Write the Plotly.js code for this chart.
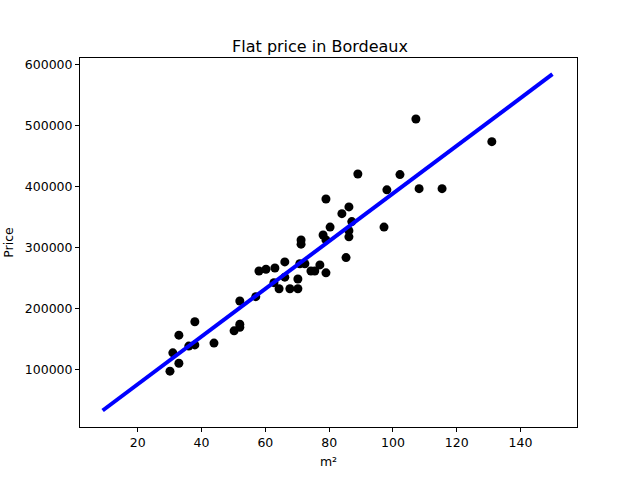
<!DOCTYPE html>
<html>
<head>
<meta charset="utf-8">
<script src="https://cdn.plot.ly/plotly-3.0.1.min.js"></script>
<style>html,body{margin:0;padding:0;background:#fff}</style>
</head>
<body>
<div id="myDiv" style="width:640px;height:480px"></div>
<script>
// Flat surface (m²) and price
const surface = [30.1, 31, 32.9, 32.9, 36, 37.9, 37.9, 43.9, 50.2, 52, 52, 52,
    57, 58, 60.2, 63, 62.7, 64.3, 66.1, 66.1, 67.7, 70.2, 70.2, 70.8, 71.2, 71.2,
    72.4, 74.3, 75.5, 77.1, 78.1, 79, 79, 79, 80.3, 84, 85.3, 86.2, 86.2, 86.2,
    87.1, 89, 97.2, 98.1, 102.2, 107.2, 108.2, 115.4, 131];
const price = [98000, 128000, 157000, 111000, 139000, 179000, 141000, 144000,
    164000, 213000, 175000, 170000, 220000, 262000, 265000, 267000, 243000,
    233000, 252000, 277000, 233000, 233000, 249000, 274000, 313000, 306000,
    274000, 262000, 262000, 272000, 321000, 259000, 313000, 380000, 334000,
    356000, 284000, 367000, 328000, 318000, 343000, 421000, 334000, 395000,
    420000, 511000, 397000, 397000, 474000];

// Regression line end points
const fitX = [9, 150];
const fitY = [33500, 584500];

const axisStyle = {
    showgrid: false,
    zeroline: false,
    showline: true,
    mirror: true,
    linecolor: '#000',
    linewidth: 1,
    ticks: 'outside',
    ticklen: 4,
    tickcolor: '#000',
    tickfont: {size: 12.5, color: '#000'}
};

let layout = {
    width: 640,
    height: 480,
    margin: {l: 80, r: 63, t: 58, b: 53},
    paper_bgcolor: '#fff',
    plot_bgcolor: '#fff',
    font: {family: 'DejaVu Sans', color: '#000'},
    showlegend: false,
    title: {text: 'Flat price in Bordeaux', font: {size: 16}, x: 0.5, xanchor: 'center', y: 0.915},
    xaxis: Object.assign({}, axisStyle, {
        range: [1.9, 157.7],
        tickvals: [20, 40, 60, 80, 100, 120, 140],
        title: {text: 'm²', font: {size: 12.5}, standoff: 8}
    }),
    yaxis: Object.assign({}, axisStyle, {
        range: [6500, 611000],
        tickvals: [100000, 200000, 300000, 400000, 500000, 600000],
        tickformat: 'd',
        title: {text: 'Price', font: {size: 12.5}, standoff: 8}
    })
};

let points = {
    x: surface, y: price, type: 'scatter', mode: 'markers',
    marker: {color: '#000', size: 9}
};
let fit = {
    x: fitX, y: fitY, type: 'scatter', mode: 'lines',
    line: {color: '#0000ff', width: 4}
};

// line drawn over the points, as in the original
Plotly.newPlot('myDiv', [points, fit], layout, {displayModeBar: false, staticPlot: true});
</script>
</body>
</html>
